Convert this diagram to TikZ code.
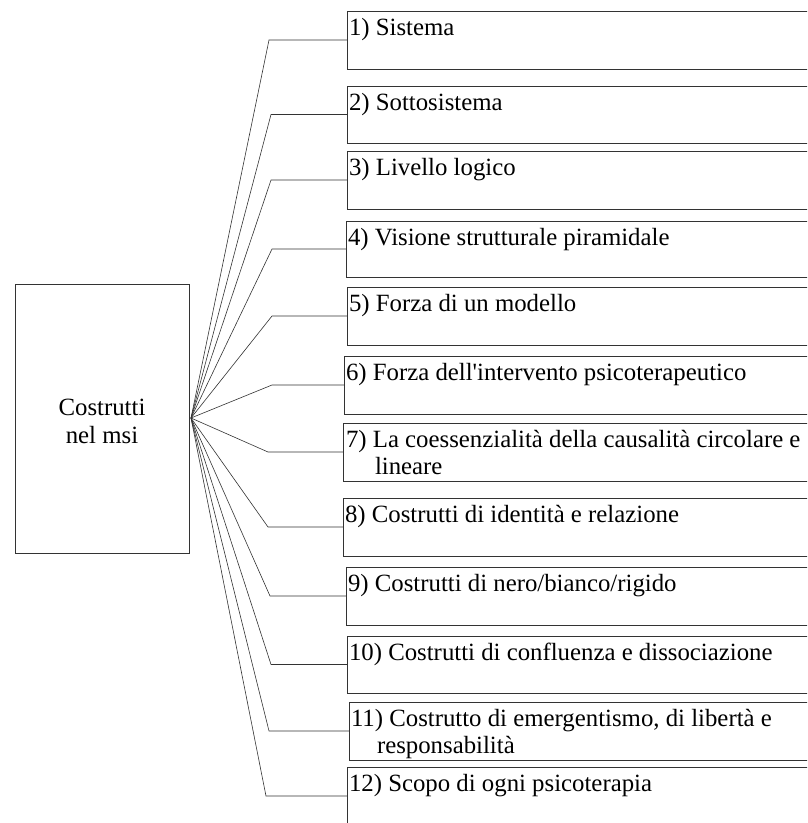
\documentclass[tikz,border=0pt]{standalone}
\usepackage{fontspec}
\setmainfont{Liberation Serif}[Ligatures=TeXOff]
\begin{document}
\begin{tikzpicture}[x=1pt,y=-1pt,
  every node/.style={inner sep=0pt,outer sep=0pt},
  frame/.style={draw=black!80,line width=0.6pt},
  itembox/.style={frame,anchor=north west,minimum width=500pt},
  itemtext/.style={anchor=base west,font=\fontsize{24.8}{27}\selectfont},
  link/.style={draw=black!80,line width=0.6pt}]
\clip (0,0) rectangle (807,823);
\fill[white] (0,0) rectangle (807,823);

% central construct
\node[frame,minimum width=174pt,minimum height=269pt] (root) at (102,418.5) {};
\node[align=center,font=\fontsize{24.8}{27.5}\selectfont] (rootlabel)
  at ([yshift=-3pt]root.center) {Costrutti\\nel msi};
\coordinate (hub) at (191,418);

% item boxes: left edge, top, height
\node[itembox,minimum height=58pt] (b1)  at (347,11)  {};
\node[itembox,minimum height=57pt] (b2)  at (347,86)  {};
\node[itembox,minimum height=58pt] (b3)  at (347,151) {};
\node[itembox,minimum height=56pt] (b4)  at (346,221) {};
\node[itembox,minimum height=58pt] (b5)  at (347,287) {};
\node[itembox,minimum height=58pt] (b6)  at (344,356) {};
\node[itembox,minimum height=58pt] (b7)  at (343,423) {};
\node[itembox,minimum height=58pt] (b8)  at (343,498) {};
\node[itembox,minimum height=58pt] (b9)  at (346,567) {};
\node[itembox,minimum height=57pt] (b10) at (347,636) {};
\node[itembox,minimum height=58pt] (b11) at (349,702) {};
\node[itembox,minimum height=58pt] (b12) at (347,767) {};

% labels
\node[itemtext] (t1)  at (349,35)  {1) Sistema};
\node[itemtext] (t2)  at (349,110) {2) Sottosistema};
\node[itemtext] (t3)  at (349,175) {3) Livello logico};
\node[itemtext] (t4)  at (348,245) {4) Visione strutturale piramidale};
\node[itemtext] (t5)  at (349,311) {5) Forza di un modello};
\node[itemtext] (t6)  at (346,380) {6) Forza dell'intervento psicoterapeutico};
\node[itemtext] (t7)  at (346,447) {7) La coessenzialità della causalità circolare e};
\node[itemtext] (t7b) at (375,474) {lineare};
\node[itemtext] (t8)  at (345,522) {8) Costrutti di identità e relazione};
\node[itemtext] (t9)  at (348,591) {9) Costrutti di nero/bianco/rigido};
\node[itemtext] (t10) at (349,660) {10) Costrutti di confluenza e dissociazione};
\node[itemtext] (t11) at (351,726) {11) Costrutto di emergentismo, di libertà e};
\node[itemtext] (t11b)at (377,753) {responsabilità};
\node[itemtext] (t12) at (349,791) {12) Scopo di ogni psicoterapia};

% fan of connectors
\draw[link] (hub) -- (269,0 |- b1.west)  -- (b1.west);
\draw[link] (hub) -- (271,0 |- b2.west)  -- (b2.west);
\draw[link] (hub) -- (271,0 |- b3.west)  -- (b3.west);
\draw[link] (hub) -- (272,0 |- b4.west)  -- (b4.west);
\draw[link] (hub) -- (272,0 |- b5.west)  -- (b5.west);
\draw[link] (hub) -- (272,0 |- b6.west)  -- (b6.west);
\draw[link] (hub) -- (268,0 |- b7.west)  -- (b7.west);
\draw[link] (hub) -- (268,0 |- b8.west)  -- (b8.west);
\draw[link] (hub) -- (270,0 |- b9.west)  -- (b9.west);
\draw[link] (hub) -- (271,0 |- b10.west) -- (b10.west);
\draw[link] (hub) -- (269,0 |- b11.west) -- (b11.west);
\draw[link] (hub) -- (266,0 |- b12.west) -- (b12.west);
\end{tikzpicture}
\end{document}
